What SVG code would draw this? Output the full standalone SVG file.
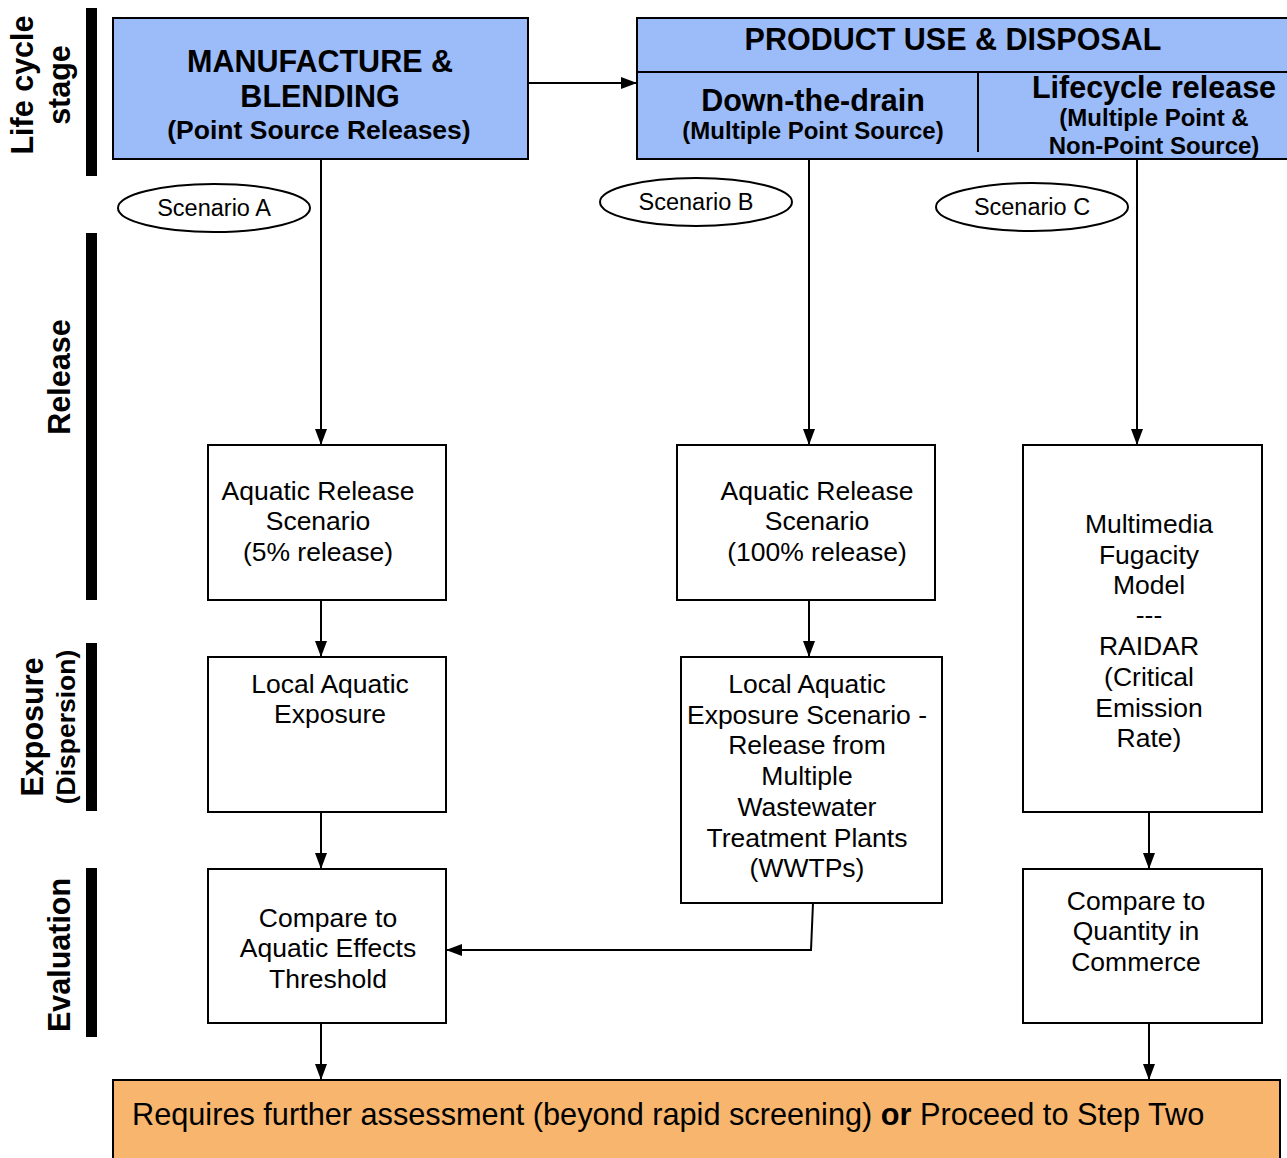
<svg xmlns="http://www.w3.org/2000/svg" width="1287" height="1158" viewBox="0 0 1287 1158">
<style>
text{font-family:"Liberation Sans",Arial,sans-serif;fill:#000}
.hb{font-size:30.5px;font-weight:bold;text-anchor:middle}
.sb{font-size:26.5px;font-weight:bold;text-anchor:middle}
.sp{font-size:24px;font-weight:bold;text-anchor:middle}
.n{font-size:26.5px;text-anchor:middle}
.sc{font-size:23.5px;text-anchor:middle}
.box{fill:#fff;stroke:#000;stroke-width:2}
.blue{fill:#9bbbf9;stroke:#000;stroke-width:2}
.bar{fill:#000}
.conn{stroke:#000;stroke-width:2;fill:none}
</style>
<defs>
<marker id="ah" viewBox="0 0 16 12" refX="16" refY="6" markerWidth="16" markerHeight="12" markerUnits="userSpaceOnUse" orient="auto">
<path d="M0,0 L16,6 L0,12 z" fill="#000"/>
</marker>
</defs>
<rect width="1287" height="1158" fill="#fff"/>
<g id="stages">
<rect class="bar" x="86" y="8" width="11" height="168"/>
<rect class="bar" x="86" y="233" width="11" height="367"/>
<rect class="bar" x="86" y="643" width="11" height="168"/>
<rect class="bar" x="86" y="868" width="11" height="169"/>
<text class="hb" transform="translate(33,85) rotate(-90)">Life cycle</text>
<text class="hb" transform="translate(70,85) rotate(-90)">stage</text>
<text class="hb" transform="translate(70,377) rotate(-90)">Release</text>
<text class="hb" transform="translate(43,727) rotate(-90)">Exposure</text>
<text class="sb" transform="translate(75,727) rotate(-90)">(Dispersion)</text>
<text class="hb" transform="translate(70,955) rotate(-90)">Evaluation</text>
</g>
<g id="manufacture">
<rect class="blue" x="113" y="18" width="415" height="141"/>
<text class="hb" x="320" y="72">MANUFACTURE &amp;</text>
<text class="hb" x="320" y="107">BLENDING</text>
<text class="sb" x="319" y="139">(Point Source Releases)</text>
</g>
<g id="product">
<rect class="blue" x="637" y="18" width="660" height="141"/>
<line class="conn" x1="637" y1="72" x2="1287" y2="72"/>
<line class="conn" x1="978" y1="72" x2="978" y2="152"/>
<text class="hb" x="953" y="50">PRODUCT USE &amp; DISPOSAL</text>
<text class="hb" x="813" y="111">Down-the-drain</text>
<text class="sp" x="813" y="139">(Multiple Point Source)</text>
<text class="hb" x="1154" y="98">Lifecycle release</text>
<text class="sp" x="1154" y="126">(Multiple Point &amp;</text>
<text class="sp" x="1154" y="154">Non-Point Source)</text>
</g>
<g id="scenarioA">
<ellipse class="box" cx="214" cy="208" rx="96" ry="24"/>
<text class="sc" x="214" y="216">Scenario A</text>
</g>
<g id="scenarioB">
<ellipse class="box" cx="696" cy="202" rx="96" ry="24"/>
<text class="sc" x="696" y="210">Scenario B</text>
</g>
<g id="scenarioC">
<ellipse class="box" cx="1032" cy="207" rx="96" ry="24"/>
<text class="sc" x="1032" y="215">Scenario C</text>
</g>
<g id="releaseA">
<rect class="box" x="208" y="445" width="238" height="155"/>
<text class="n" x="318" y="500">Aquatic Release</text>
<text class="n" x="318" y="530">Scenario</text>
<text class="n" x="318" y="561">(5% release)</text>
</g>
<g id="releaseB">
<rect class="box" x="677" y="445" width="258" height="155"/>
<text class="n" x="817" y="500">Aquatic Release</text>
<text class="n" x="817" y="530">Scenario</text>
<text class="n" x="817" y="561">(100% release)</text>
</g>
<g id="fugacity">
<rect class="box" x="1023" y="445" width="239" height="367"/>
<text class="n" x="1149" y="533">Multimedia</text>
<text class="n" x="1149" y="564">Fugacity</text>
<text class="n" x="1149" y="594">Model</text>
<text class="n" x="1149" y="624">---</text>
<text class="n" x="1149" y="655">RAIDAR</text>
<text class="n" x="1149" y="686">(Critical</text>
<text class="n" x="1149" y="717">Emission</text>
<text class="n" x="1149" y="747">Rate)</text>
</g>
<g id="exposureA">
<rect class="box" x="208" y="657" width="238" height="155"/>
<text class="n" x="330" y="693">Local Aquatic</text>
<text class="n" x="330" y="723">Exposure</text>
</g>
<g id="exposureB">
<rect class="box" x="681" y="657" width="261" height="246"/>
<text class="n" x="807" y="693">Local Aquatic</text>
<text class="n" x="807" y="724">Exposure Scenario -</text>
<text class="n" x="807" y="754">Release from</text>
<text class="n" x="807" y="785">Multiple</text>
<text class="n" x="807" y="816">Wastewater</text>
<text class="n" x="807" y="847">Treatment Plants</text>
<text class="n" x="807" y="877">(WWTPs)</text>
</g>
<g id="evalA">
<rect class="box" x="208" y="869" width="238" height="154"/>
<text class="n" x="328" y="927">Compare to</text>
<text class="n" x="328" y="957">Aquatic Effects</text>
<text class="n" x="328" y="988">Threshold</text>
</g>
<g id="evalC">
<rect class="box" x="1023" y="869" width="239" height="154"/>
<text class="n" x="1136" y="910">Compare to</text>
<text class="n" x="1136" y="940">Quantity in</text>
<text class="n" x="1136" y="971">Commerce</text>
</g>
<g id="outcome">
<rect x="113" y="1080" width="1167" height="90" fill="#f7b56e" stroke="#000" stroke-width="2"/>
<text x="132" y="1125" style="font-size:30.7px">Requires further assessment (beyond rapid screening) <tspan font-weight="bold">or</tspan> Proceed to Step Two</text>
</g>
<g id="connectors">
<line class="conn" x1="528" y1="83" x2="637" y2="83" marker-end="url(#ah)"/>
<line class="conn" x1="321" y1="159" x2="321" y2="445" marker-end="url(#ah)"/>
<line class="conn" x1="809" y1="159" x2="809" y2="445" marker-end="url(#ah)"/>
<line class="conn" x1="1137" y1="159" x2="1137" y2="445" marker-end="url(#ah)"/>
<line class="conn" x1="321" y1="600" x2="321" y2="657" marker-end="url(#ah)"/>
<line class="conn" x1="809" y1="600" x2="809" y2="657" marker-end="url(#ah)"/>
<line class="conn" x1="321" y1="812" x2="321" y2="869" marker-end="url(#ah)"/>
<line class="conn" x1="1149" y1="812" x2="1149" y2="869" marker-end="url(#ah)"/>
<line class="conn" x1="321" y1="1023" x2="321" y2="1080" marker-end="url(#ah)"/>
<line class="conn" x1="1149" y1="1023" x2="1149" y2="1080" marker-end="url(#ah)"/>
<polyline class="conn" points="813,903 811,950 446,950" marker-end="url(#ah)"/>
</g>
</svg>
